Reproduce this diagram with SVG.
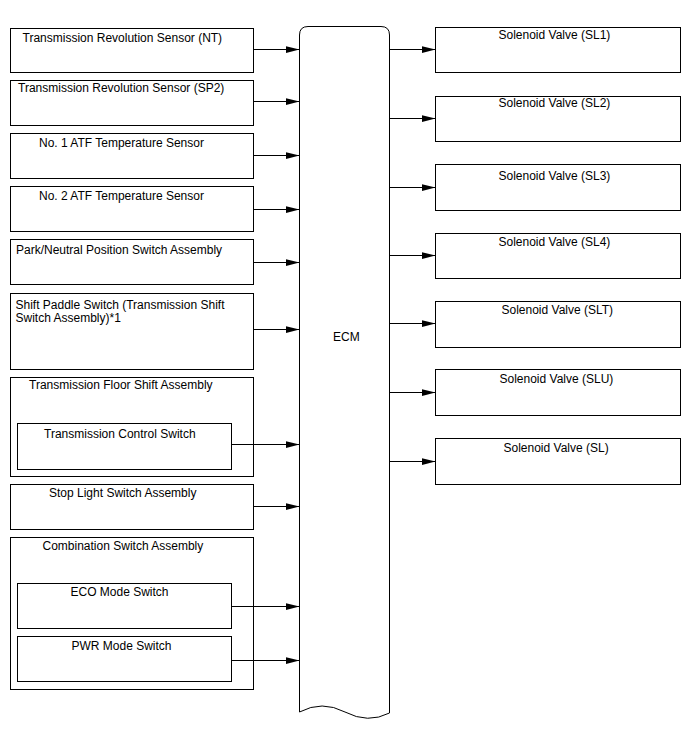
<svg xmlns="http://www.w3.org/2000/svg" width="688" height="755" viewBox="0 0 688 755">
<style>
.b{fill:#fff;stroke:#000;stroke-width:1}
.t{font-family:"Liberation Sans",Arial,sans-serif;font-size:12px;fill:#000}
.c{fill:none;stroke:#000;stroke-width:1}
</style>
<defs>
<marker id="a" markerWidth="14" markerHeight="7" refX="14" refY="3.5" orient="auto" markerUnits="userSpaceOnUse">
<path d="M0,0 L14,3.5 L0,7 z" fill="#000"/>
</marker>
</defs>
<rect width="688" height="755" fill="#fff"/>
<g id="n1"><rect class="b" x="10.5" y="28.5" width="243" height="44"/><text class="t" x="22.5" y="42">Transmission Revolution Sensor (NT)</text></g>
<g id="n2"><rect class="b" x="10.5" y="80.5" width="243" height="45"/><text class="t" x="18" y="92">Transmission Revolution Sensor (SP2)</text></g>
<g id="n3"><rect class="b" x="10.5" y="133.5" width="243" height="45"/><text class="t" x="39" y="147">No. 1 ATF Temperature Sensor</text></g>
<g id="n4"><rect class="b" x="10.5" y="186.5" width="243" height="45"/><text class="t" x="39" y="200">No. 2 ATF Temperature Sensor</text></g>
<g id="n5"><rect class="b" x="10.5" y="239.5" width="243" height="45"/><text class="t" x="16" y="253.5">Park/Neutral Position Switch Assembly</text></g>
<g id="n6"><rect class="b" x="10.5" y="293.5" width="243" height="76"/><text class="t" x="15.5" y="308.5">Shift Paddle Switch (Transmission Shift</text><text class="t" x="15.5" y="322">Switch Assembly)*1</text></g>
<g id="n7"><rect class="b" x="10.5" y="377.5" width="243" height="99"/><text class="t" x="29" y="389">Transmission Floor Shift Assembly</text></g>
<g id="n7a"><rect class="b" x="17.5" y="423.5" width="214" height="46"/><text class="t" x="44" y="437.5">Transmission Control Switch</text></g>
<g id="n8"><rect class="b" x="10.5" y="484.5" width="243" height="45"/><text class="t" x="49" y="497">Stop Light Switch Assembly</text></g>
<g id="n9"><rect class="b" x="10.5" y="537.5" width="243" height="152"/><text class="t" x="42.5" y="550">Combination Switch Assembly</text></g>
<g id="n9a"><rect class="b" x="17.5" y="583.5" width="214" height="45"/><text class="t" x="70.5" y="596">ECO Mode Switch</text></g>
<g id="n9b"><rect class="b" x="17.5" y="636.5" width="214" height="45"/><text class="t" x="71.5" y="649.5">PWR Mode Switch</text></g>
<g id="ecm"><path class="b" d="M299.5,712 L299.5,35 Q299.5,26.5 308,26.5 L381,26.5 Q389.5,26.5 389.5,35 L389.5,713 Q368,724 345,712 Q322,700 299.5,712 Z"/><text class="t" x="333" y="340.5">ECM</text></g>
<g id="s1"><rect class="b" x="435.5" y="27.5" width="245" height="45"/><text class="t" x="498.5" y="38.5">Solenoid Valve (SL1)</text></g>
<g id="s2"><rect class="b" x="435.5" y="96.5" width="245" height="45"/><text class="t" x="498.5" y="107">Solenoid Valve (SL2)</text></g>
<g id="s3"><rect class="b" x="435.5" y="164.5" width="245" height="46"/><text class="t" x="498.5" y="179.5">Solenoid Valve (SL3)</text></g>
<g id="s4"><rect class="b" x="435.5" y="233.5" width="245" height="45"/><text class="t" x="498.5" y="246">Solenoid Valve (SL4)</text></g>
<g id="s5"><rect class="b" x="435.5" y="301.5" width="245" height="46"/><text class="t" x="501.5" y="313.5">Solenoid Valve (SLT)</text></g>
<g id="s6"><rect class="b" x="435.5" y="369.5" width="245" height="46"/><text class="t" x="499.5" y="383">Solenoid Valve (SLU)</text></g>
<g id="s7"><rect class="b" x="435.5" y="438.5" width="245" height="46"/><text class="t" x="503.5" y="452">Solenoid Valve (SL)</text></g>
<g id="connectors">
<path class="c" marker-end="url(#a)" d="M253.5,49.5 H299.5"/>
<path class="c" marker-end="url(#a)" d="M253.5,101.5 H299.5"/>
<path class="c" marker-end="url(#a)" d="M253.5,155.5 H299.5"/>
<path class="c" marker-end="url(#a)" d="M253.5,209.5 H299.5"/>
<path class="c" marker-end="url(#a)" d="M253.5,262.5 H299.5"/>
<path class="c" marker-end="url(#a)" d="M253.5,329.5 H299.5"/>
<path class="c" marker-end="url(#a)" d="M231.5,444.5 H299.5"/>
<path class="c" marker-end="url(#a)" d="M253.5,506.5 H299.5"/>
<path class="c" marker-end="url(#a)" d="M231.5,606.5 H299.5"/>
<path class="c" marker-end="url(#a)" d="M231.5,660.5 H299.5"/>
<path class="c" marker-end="url(#a)" d="M389.5,49.5 H435.5"/>
<path class="c" marker-end="url(#a)" d="M389.5,118.5 H435.5"/>
<path class="c" marker-end="url(#a)" d="M389.5,187.5 H435.5"/>
<path class="c" marker-end="url(#a)" d="M389.5,255.5 H435.5"/>
<path class="c" marker-end="url(#a)" d="M389.5,323.5 H435.5"/>
<path class="c" marker-end="url(#a)" d="M389.5,392.5 H435.5"/>
<path class="c" marker-end="url(#a)" d="M389.5,461.5 H435.5"/>
</g>
</svg>
